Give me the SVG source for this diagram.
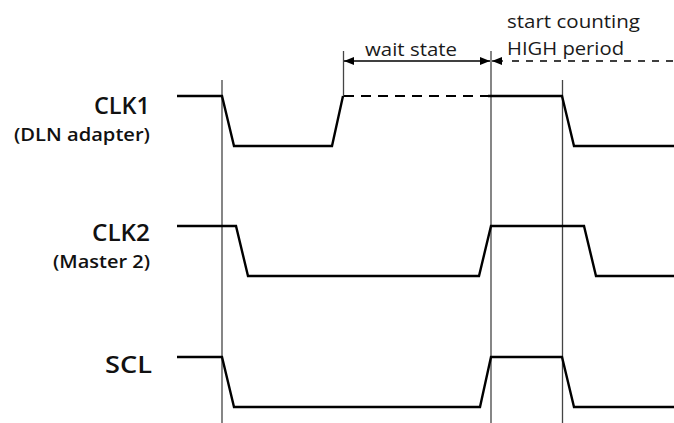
<svg xmlns="http://www.w3.org/2000/svg" width="674" height="423" viewBox="0 0 674 423">
<style>
  .sig{fill:none;stroke:#000;stroke-width:2.4;stroke-linejoin:miter}
  .dash{fill:none;stroke:#000;stroke-width:2.2;stroke-dasharray:10 7}
  .guide{fill:none;stroke:#444;stroke-width:1.3}
  .dim{fill:none;stroke:#000;stroke-width:1.3}
  .tdash{fill:none;stroke:#000;stroke-width:1.3;stroke-dasharray:7 7}
  .name{font-family:"Open Sans","Liberation Sans",sans-serif;font-weight:600;font-size:23px;fill:#111;text-anchor:end}
  .sub{font-family:"Open Sans","Liberation Sans",sans-serif;font-weight:600;font-size:18px;fill:#111;text-anchor:end}
  .note{font-family:"Open Sans","Liberation Sans",sans-serif;font-size:18.5px;fill:#1a1a1a}
</style>
<defs>
  <marker id="arr" viewBox="0 0 10 8" refX="10" refY="4" markerWidth="10" markerHeight="8" markerUnits="userSpaceOnUse" orient="auto-start-reverse">
    <path d="M0,0 L10,4 L0,8 z" fill="#000"/>
  </marker>
</defs>
<g id="connectors">
  <line class="guide" x1="222" y1="80" x2="222" y2="423"/>
  <line class="guide" x1="491" y1="51" x2="491" y2="423"/>
  <line class="guide" x1="562.5" y1="80" x2="562.5" y2="423"/>
  <line class="guide" x1="343.5" y1="51" x2="343.5" y2="97"/>
  <line class="dim" x1="344" y1="61" x2="490" y2="61" marker-start="url(#arr)" marker-end="url(#arr)"/>
  <line class="dim" x1="492" y1="61" x2="503" y2="61" marker-start="url(#arr)"/>
  <line class="tdash" x1="512" y1="61" x2="674" y2="61"/>
</g>
<g id="wait-state">
  <text class="note" x="365" y="56" textLength="92" lengthAdjust="spacingAndGlyphs">wait state</text>
</g>
<g id="start-counting">
  <text class="note" x="507" y="28" textLength="133" lengthAdjust="spacingAndGlyphs">start counting</text>
  <text class="note" x="507" y="55" textLength="117" lengthAdjust="spacingAndGlyphs">HIGH period</text>
</g>
<g id="clk1">
  <text class="name" x="150" y="114" textLength="56" lengthAdjust="spacingAndGlyphs">CLK1</text>
  <text class="sub" x="150" y="141" textLength="136" lengthAdjust="spacingAndGlyphs">(DLN adapter)</text>
  <polyline class="sig" points="177,96 222,96 234,146 332,146 343,96"/>
  <line class="dash" x1="344" y1="96" x2="490" y2="96"/>
  <polyline class="sig" points="488,96 562,96 574,146 674,146"/>
</g>
<g id="clk2">
  <text class="name" x="150" y="241" textLength="58" lengthAdjust="spacingAndGlyphs">CLK2</text>
  <text class="sub" x="150" y="268" textLength="97" lengthAdjust="spacingAndGlyphs">(Master 2)</text>
  <polyline class="sig" points="177,226 236,226 248,276 479,276 491,226 584,226 596,276 674,276"/>
</g>
<g id="scl">
  <text class="name" x="152" y="373" textLength="47" lengthAdjust="spacingAndGlyphs">SCL</text>
  <polyline class="sig" points="177,357 222,357 234,407 480,407 491,357 562,357 574,407 674,407"/>
</g>
</svg>
